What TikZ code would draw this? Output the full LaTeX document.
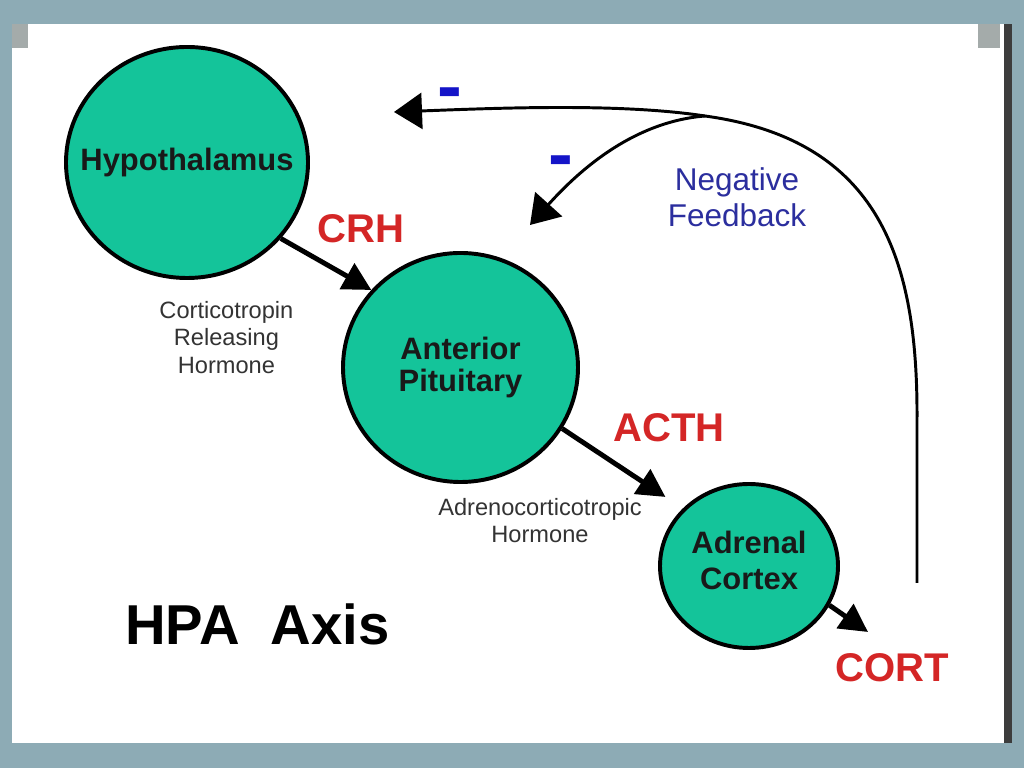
\documentclass[tikz,border=0pt]{standalone}
\usepackage{fontspec}
\setmainfont{Liberation Sans}
\usetikzlibrary{arrows.meta, positioning, shapes.geometric}
\definecolor{cteal}{HTML}{14C49A}
\definecolor{cred}{HTML}{D42626}
\definecolor{cnavy}{HTML}{2B2E9E}
\definecolor{cblue}{HTML}{1414C8}
\definecolor{cgrey}{HTML}{333333}
\definecolor{cslate}{HTML}{8DABB5}
\definecolor{cshadow}{HTML}{3C3C3C}
\definecolor{ccorner}{HTML}{A4ABAA}
\tikzset{
  gland/.style={ellipse, draw=black, fill=cteal, line width=2.8pt, inner sep=0pt},
  glandtext/.style={font=\bfseries\fontsize{22}{23}\selectfont, align=center, text=black!90},
  hormone/.style={font=\bfseries\fontsize{28.5}{30}\selectfont, text=cred, anchor=base},
  note/.style={font=\fontsize{16.8}{19.6}\selectfont, text=cgrey, align=center, anchor=north, inner sep=0pt},
  arrow/.style={-{Triangle[length=0.7cm, width=0.72cm]}, line width=3.5pt},
  feedback/.style={-{Triangle[length=0.7cm, width=0.9cm]}, line width=2.1pt},
  minus/.style={font=\bfseries\fontsize{53}{53}\selectfont, text=cblue, anchor=base},
  title/.style={font=\bfseries\fontsize{40}{44}\selectfont, anchor=base},
}

\begin{document}
\begin{tikzpicture}
  \useasboundingbox (0,0) rectangle (25.6,19.2);
  % slide
  \fill[cslate] (0,0) rectangle (25.6,19.2);
  \fill[cshadow] (25.05,0.625) rectangle (25.3,18.6);
  \fill[white] (0.3,0.625) rectangle (25.1,18.6);
  \fill[ccorner] (0.3,18.0) rectangle (0.7,18.6);
  \fill[ccorner] (24.45,18.0) rectangle (25.0,18.6);
  % glands
  \node[gland, minimum width=6.05cm, minimum height=5.775cm,
    label={[glandtext]center:Hypothalamus}] (hypo) at (4.675,15.1375) {};
  \node[gland, minimum width=5.875cm, minimum height=5.725cm,
    label={[glandtext]center:Anterior\\Pituitary}] (ant) at (11.5125,10.0125) {};
  \node[gland, minimum width=4.45cm, minimum height=4.1cm,
    label={[glandtext, yshift=0.14cm, font=\bfseries\fontsize{22}{25.5}\selectfont]center:Adrenal\\Cortex}] (adr) at (18.725,5.05) {};
  \coordinate (cortend) at (21.7,3.4);
  % hormones
  \draw[arrow] (hypo.-39) -- (ant.139);
  \draw[arrow, shorten >=0.52cm] (ant.-31) -- (adr.139);
  \draw[arrow] (adr.-26) -- (cortend);
  \node[hormone] (crh) at (9.025,13.125) {CRH};
  \node[hormone] (acth) at (16.725,8.15) {ACTH};
  \node[hormone] (cort) at (22.3125,2.15) {CORT};
  \node[note] (crhnote) at (5.66,11.675) {Corticotropin\\Releasing\\Hormone};
  \node[note] (acthnote) at (13.5,6.75) {Adrenocorticotropic\\Hormone};
  % negative feedback
  \coordinate (fbstart) at (22.925,4.625);
  \coordinate (fbsplit) at (17.625,16.3);
  \coordinate (hypoin) at (9.85,16.4);
  \coordinate (antin) at (13.25,13.575);
  \draw[feedback] (fbstart) -- (22.925,8.7) .. controls (22.95,12.7) and (22.0,15.7) .. (fbsplit)
    .. controls (15.5,16.625) and (12.5,16.5) .. (hypoin);
  \draw[feedback] (fbsplit) .. controls (15.75,16.15) and (14.375,14.825) .. (antin);
  \node[minus] (minustop) at (11.25,16.415) {-};
  \node[minus] (minusmid) at (14.025,14.715) {-};
  \node[note, font=\fontsize{22.4}{25.6}\selectfont, text=cnavy] (fbnote) at (18.425,15.025) {Negative\\Feedback};
  % title
  \node[title] (hpa) at (6.4375,3.075) {HPA\ \ Axis};
\end{tikzpicture}
\end{document}
